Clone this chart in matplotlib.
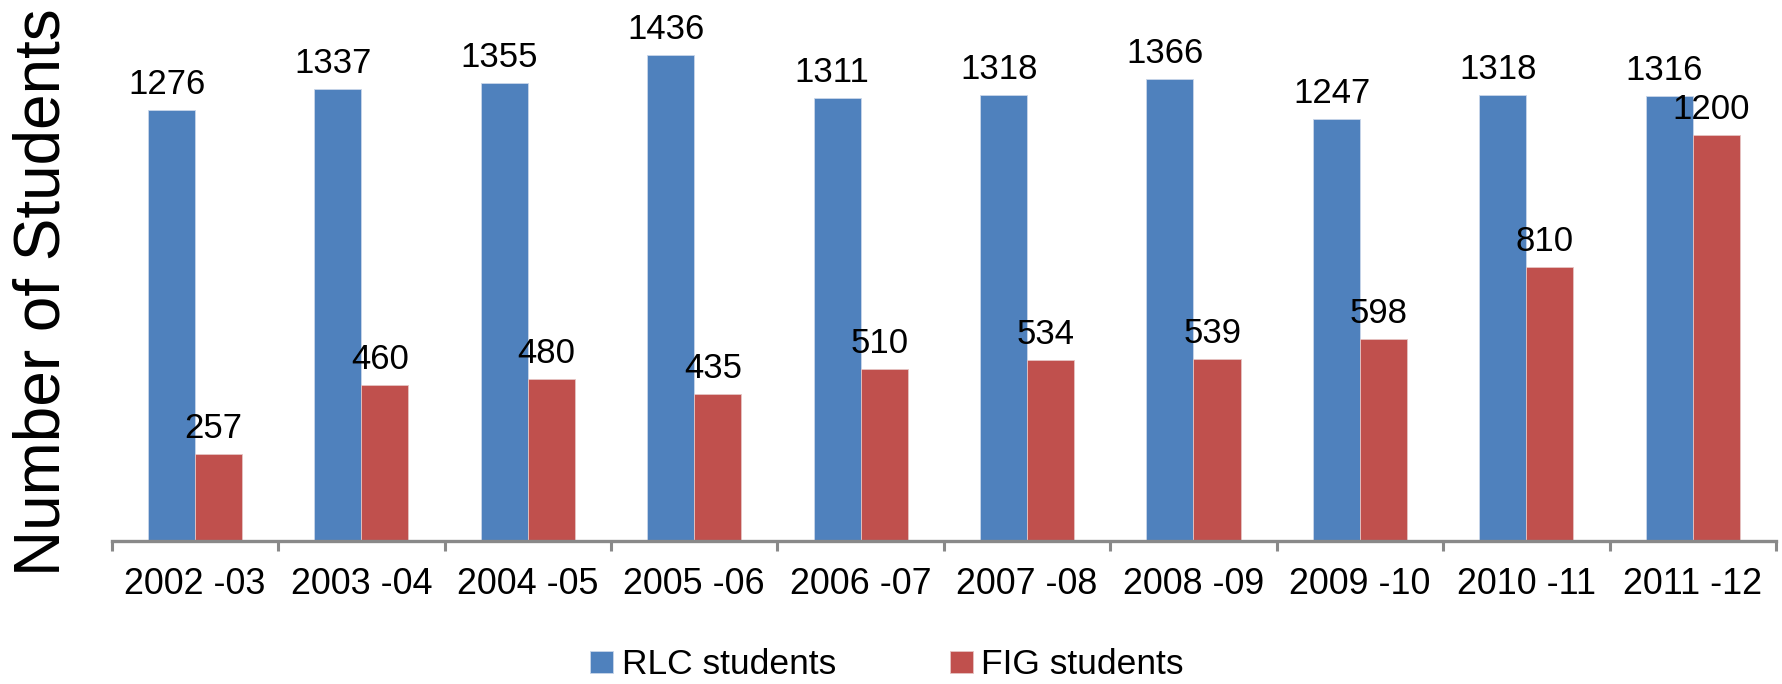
import matplotlib
matplotlib.use("Agg")
import matplotlib.pyplot as plt
import numpy as np
from matplotlib.ticker import FixedLocator, NullFormatter

plt.rcParams['font.family'] = ['Liberation Sans', 'DejaVu Sans']

years = ["2002 -03", "2003 -04", "2004 -05", "2005 -06", "2006 -07",
         "2007 -08", "2008 -09", "2009 -10", "2010 -11", "2011 -12"]
rlc_students = [1276, 1337, 1355, 1436, 1311, 1318, 1366, 1247, 1318, 1316]
fig_students = [257, 460, 480, 435, 510, 534, 539, 598, 810, 1200]

blue = "#4F81BD"
red = "#C0504D"
axis_grey = "#898989"

W, H, DPI = 1782, 684, 100
fig = plt.figure(figsize=(W / DPI, H / DPI), dpi=DPI)
ax = fig.add_axes([111.7 / W, 1 - 541 / H, (1776 - 111.7) / W, 541 / H])

n = len(years)
centers = np.arange(n) + 0.5
w = 0.283
b1 = ax.bar(centers - w / 2, rlc_students, w, color=blue,
            edgecolor="#c9d6ea", linewidth=0.6, label="RLC students")
b2 = ax.bar(centers + w / 2, fig_students, w, color=red,
            edgecolor="#e6c4c3", linewidth=0.6, label="FIG students")

for bars, vals in ((b1, rlc_students), (b2, fig_students)):
    for rect, v in zip(bars, vals):
        ax.annotate(f"{v}", (rect.get_x() + rect.get_width() / 2, v),
                    xytext=(-3.5, 11.5), textcoords="offset points",
                    ha="center", va="baseline", fontsize=25,
                    annotation_clip=False)

ax.set_xlim(0, n)
ax.set_ylim(0, 1600)

for s in ("top", "right", "left"):
    ax.spines[s].set_visible(False)
ax.spines["bottom"].set_color(axis_grey)
ax.spines["bottom"].set_linewidth(2.4)
ax.yaxis.set_visible(False)

ax.xaxis.set_major_locator(FixedLocator(np.arange(n + 1)))
ax.xaxis.set_major_formatter(NullFormatter())
ax.xaxis.set_minor_locator(FixedLocator(centers))
ax.set_xticks(centers, years, minor=True)
ax.tick_params(axis="x", which="major", length=7.5, width=2.2,
               color=axis_grey, direction="out")
ax.tick_params(axis="x", which="minor", length=0, pad=18.5, labelsize=25.8)

fig.text(59.3 / W, 1 - 292.5 / H, "Number of Students", rotation=90,
         rotation_mode="anchor", ha="center", va="baseline", fontsize=46)

fig.legend(handles=[b1, b2], loc="center",
           bbox_to_anchor=(887 / W, 1 - 665 / H), ncol=2, frameon=False,
           fontsize=25.5, handlelength=0.65, handleheight=0.54,
           handletextpad=0.25, columnspacing=3.2, borderpad=0)

fig.savefig("out.png", dpi=DPI, facecolor="white")
